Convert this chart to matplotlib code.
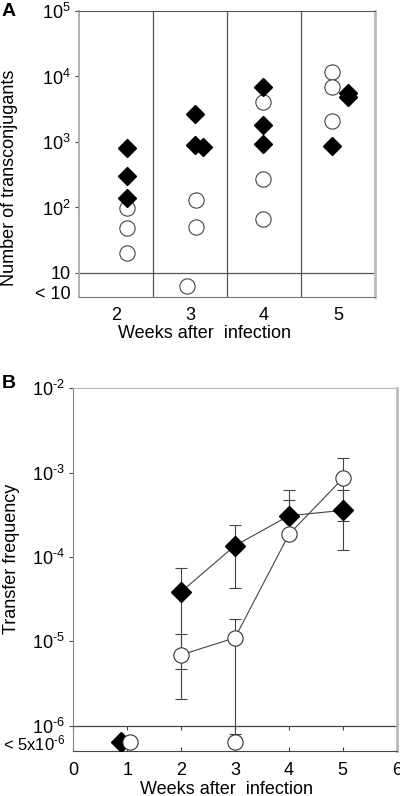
import numpy as np
import matplotlib
matplotlib.use('Agg')
import matplotlib.pyplot as plt
from matplotlib.ticker import FixedLocator, NullLocator

plt.rcParams['font.family'] = ['Liberation Sans', 'DejaVu Sans']
plt.rcParams['mathtext.fontset'] = 'custom'
plt.rcParams['mathtext.rm'] = 'Liberation Sans'
plt.rcParams['mathtext.it'] = 'Liberation Sans'
plt.rcParams['mathtext.default'] = 'regular'

# ---- panel A data (number of transconjugants per mouse) ----
a_weeks = [2, 3, 4, 5]
a_diam_x = [2.145, 2.145, 2.145, 3.07, 3.07, 3.18, 3.99, 3.99, 3.99, 4.915, 5.14, 5.14]
a_diam_y = [800, 306, 141, 2650, 900, 850, 7000, 1840, 920, 880, 5660, 4900]
a_circ_x = [2.145, 2.145, 2.145, 3.08, 3.08, 3.99, 3.99, 3.99, 4.915, 4.915, 4.915]
a_circ_y = [99, 49, 20, 130, 50, 4120, 270, 67, 11600, 6840, 2120]
a_circ_below_x = [2.955]   # "< 10"
a_below_level = 6.3
a_yticks = [1e5, 1e4, 1e3, 1e2, 10]
a_yticklabels = ['10$^{5}$', '10$^{4}$', '10$^{3}$', '10$^{2}$', '10']

# ---- panel B data (transfer frequency, mean with error bars) ----
b_weeks = [2, 3, 4, 5]
b_diam = [3.87e-5, 1.36e-4, 3.08e-4, 3.57e-4]
b_diam_lo = [4.7e-6, 4.3e-5, 3.08e-4, 1.2e-4]
b_diam_hi = [7.3e-5, 2.39e-4, 6.2e-4, 6.17e-4]
b_circ = [6.9e-6, 1.10e-5, 1.85e-4, 8.55e-4]
b_circ_lo = [2.05e-6, 7.9e-7, 1.85e-4, 2.64e-4]
b_circ_hi = [1.21e-5, 1.82e-5, 4.7e-4, 1.49e-3]
b_diam_below_x = [0.88]
b_circ_below_x = [1.05, 3.0]
b_below_level = 6.4e-7
b_yticks = [1e-2, 1e-3, 1e-4, 1e-5, 1e-6]
b_yticklabels = ['10$^{\\text{-2}}$', '10$^{\\text{-3}}$', '10$^{\\text{-4}}$',
                 '10$^{\\text{-5}}$', '10$^{\\text{-6}}$']

W, H = 400, 796
fig = plt.figure(figsize=(W/100, H/100), dpi=100)

def box(l, t, r, b):
    return [l/W, 1-b/H, (r-l)/W, (b-t)/H]

# ================= panel A =================
ax = fig.add_axes(box(79, 11, 375, 297))
ax.set_yscale('log')
ax.set_ylim(4.3, 1e5)
ax.set_xlim(1.5, 5.5)
for xv in [2.5, 3.5, 4.5]:
    ax.axvline(xv, color='#555555', lw=0.9, zorder=1)
ax.axhline(10, color='#555555', lw=0.9, zorder=1)

ax.plot(a_circ_x, a_circ_y, 'o', ms=11, mfc='white', mec='#444444', mew=0.8, ls='none', zorder=3)
ax.plot(a_circ_below_x, [a_below_level]*len(a_circ_below_x), 'o', ms=11, mfc='white',
        mec='#444444', mew=0.8, ls='none', zorder=3)
ax.plot(a_diam_x, a_diam_y, 'D', ms=9, color='black', ls='none', zorder=4)

ax.yaxis.set_major_locator(FixedLocator(a_yticks + [a_below_level]))
ax.yaxis.set_minor_locator(NullLocator())
ax.set_yticklabels(a_yticklabels + ['< 10'])
ax.tick_params(axis='y', which='major', direction='out', length=3, width=0.8,
               color='#444444', labelsize=13, pad=3)
ax.get_yticklines()[-2].set_visible(False)
ax.get_yticklabels()[-1].set_va('top')
ax.get_yticklabels()[-1].set_y(a_below_level)
ax.set_xticks(a_weeks)
ax.tick_params(axis='x', length=0, labelsize=13, pad=7)

ax.spines['left'].set_color('#aaaaaa')
ax.spines['left'].set_linewidth(1.3)
ax.spines['top'].set_color('#555555')
ax.spines['right'].set_color('#bbbbbb')
ax.spines['right'].set_linewidth(2)
ax.spines['bottom'].set_color('#777777')

fig.text(2/W, 1-12/H, 'A', fontsize=14, fontweight='bold', ha='left', va='center')
fig.text(10/W, 1-178/H, 'Number of transconjugants', rotation=90, fontsize=13,
         ha='center', va='center')
fig.text(205/W, 1-333/H, 'Weeks after  infection', fontsize=13, ha='center', va='center')

# ================= panel B =================
bx = fig.add_axes(box(73.3, 388.3, 396.7, 751))
bx.set_yscale('log')
ylo, yhi = 5.0e-7, 1e-2
bx.set_ylim(ylo, yhi)
bx.set_xlim(0, 6)

# threshold line at 10^-6 with little ticks hanging down
frac = (np.log10(1e-6) - np.log10(ylo)) / (np.log10(yhi) - np.log10(ylo))
sec = bx.secondary_xaxis(frac)
sec.set_xticks(range(0, 7))
sec.tick_params(direction='out', length=3, width=0.8, color='#444444', labelbottom=False)
sec.spines['bottom'].set_color('#444444')
sec.spines['bottom'].set_linewidth(0.9)

b_diam_err = [np.array(b_diam) - np.array(b_diam_lo), np.array(b_diam_hi) - np.array(b_diam)]
b_circ_err = [np.array(b_circ) - np.array(b_circ_lo), np.array(b_circ_hi) - np.array(b_circ)]

bx.errorbar(b_weeks, b_diam, yerr=b_diam_err, fmt='none', ecolor='#444444', elinewidth=0.8,
            capsize=4.5, capthick=0.8, zorder=2)
bx.errorbar(b_weeks, b_circ, yerr=b_circ_err, fmt='none', ecolor='#444444', elinewidth=0.8,
            capsize=4.5, capthick=0.8, zorder=2)
bx.plot(b_weeks, b_diam, '-', color='#444444', lw=0.8, zorder=3)
bx.plot(b_weeks, b_circ, '-', color='#444444', lw=0.8, zorder=3)
bx.plot(b_weeks, b_diam, 'D', ms=10, color='black', ls='none', zorder=4)
bx.plot(b_diam_below_x, [b_below_level]*len(b_diam_below_x), 'D', ms=10, color='black',
        ls='none', zorder=4)
bx.plot(b_weeks, b_circ, 'o', ms=11, mfc='white', mec='#333333', mew=0.8, ls='none', zorder=5)
bx.plot(b_circ_below_x, [b_below_level]*len(b_circ_below_x), 'o', ms=11, mfc='white',
        mec='#333333', mew=0.8, ls='none', zorder=5)

bx.yaxis.set_major_locator(FixedLocator(b_yticks + [b_below_level]))
bx.yaxis.set_minor_locator(NullLocator())
bx.set_yticklabels(b_yticklabels + ['< 5x10$^{\\text{-6}}$'])
bx.tick_params(axis='y', direction='out', length=3, width=0.8, color='#444444',
               labelsize=13, pad=3)
bx.get_yticklines()[-2].set_visible(False)
bx.get_yticklabels()[-1].set_fontsize(12)
bx.set_xticks(range(0, 7))
bx.tick_params(axis='x', direction='in', length=3, width=0.8, color='#444444',
               labelsize=13, pad=8)

bx.spines['left'].set_color('#888888')
bx.spines['top'].set_color('#bbbbbb')
bx.spines['right'].set_color('#bbbbbb')
bx.spines['right'].set_linewidth(2)
bx.spines['bottom'].set_color('#444444')

fig.text(2/W, 1-384/H, 'B', fontsize=14, fontweight='bold', ha='left', va='center')
fig.text(12/W, 1-559/H, 'Transfer frequency', rotation=90, fontsize=13,
         ha='center', va='center')
fig.text(227/W, 1-789/H, 'Weeks after  infection', fontsize=13, ha='center', va='center')

fig.savefig('out.png', dpi=100)
